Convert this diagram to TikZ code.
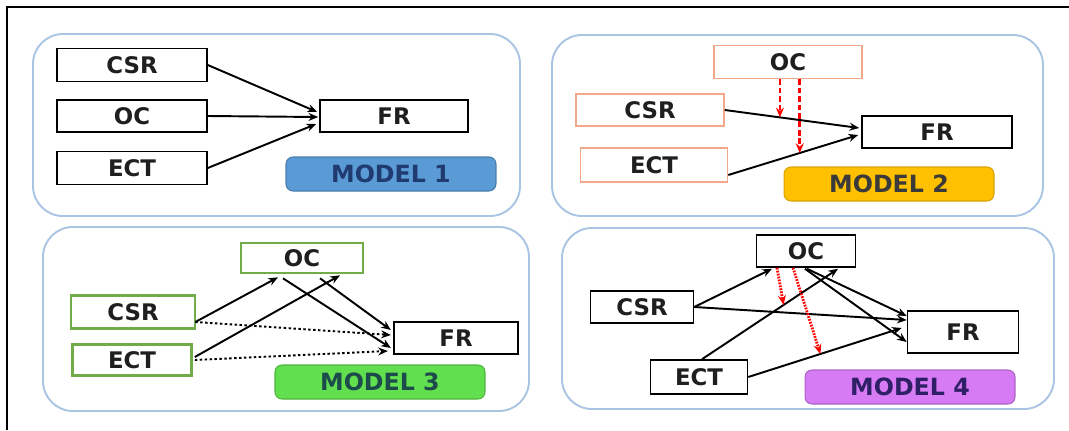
\documentclass[tikz,border=0pt]{standalone}
\usepackage{fontspec}
\setmainfont{DejaVu Sans}
\usetikzlibrary{calc,arrows.meta}

% Màu sắc dùng trong hình
\definecolor{khungmo}{HTML}{A9C5E3}
\definecolor{camnhat}{HTML}{F2A98A}
\definecolor{xanhla}{HTML}{70AD47}
\definecolor{nen1}{HTML}{5B9BD5}
\definecolor{chu1}{HTML}{1F3B70}
\definecolor{nen2}{HTML}{FFC000}
\definecolor{chu2}{HTML}{3A3A3A}
\definecolor{nen3}{HTML}{62DF4E}
\definecolor{chu3}{HTML}{1D4A4A}
\definecolor{nen4}{HTML}{D77BF4}
\definecolor{chu4}{HTML}{2F1F66}

\tikzset{
    panel/.style={draw=khungmo, line width=1.1pt, rounded corners=0.6cm},
    hop/.style={draw, line width=0.9pt, fill=white, inner sep=0pt,
        font=\fontsize{13}{15}\selectfont\bfseries, text=black!88},
    nhan/.style={rounded corners=4pt, inner sep=0pt, line width=0.6pt,
        minimum width=4.2cm, minimum height=0.68cm,
        font=\fontsize{13.5}{15}\selectfont\bfseries},
    muiten/.style={->, line width=1.1pt},
    muitencham/.style={->, line width=1.1pt, dash pattern=on 1.4pt off 1.4pt},
    tacdong/.style={->, red, line width=1.6pt, dash pattern=on 3.2pt off 1.6pt},
    tacdongcham/.style={->, red, line width=1.6pt, dash pattern=on 1pt off 0.7pt}
}

\begin{document}
\begin{tikzpicture}[>={Stealth[length=5.5pt,width=4.5pt]}, x=0.02cm, y=-0.02cm]

    \useasboundingbox (0,0) rectangle (1069,430);
    % Khung viền ngoài (chỉ cạnh trên và cạnh trái)
    \draw[line width=1.2pt] (7,430) -- (7,7) -- (1069,7);

    % =================================================================
    % MODEL 1
    % =================================================================
    \begin{scope}
        \draw[panel] (33,34) rectangle (520,216);

        \node[hop, minimum width=3cm, minimum height=0.66cm] (csr1) at (132,65) {CSR};
        \node[hop, minimum width=3cm, minimum height=0.64cm] (oc1) at (132,116) {OC};
        \node[hop, minimum width=3cm, minimum height=0.66cm] (ect1) at (132,168) {ECT};
        \node[hop, minimum width=2.96cm, minimum height=0.64cm] (fr1) at (394,116) {FR};
        \node[nhan, fill=nen1, draw=nen1!80!black, text=chu1] (model1) at (391,174) {MODEL 1};

        % Các tác động trực tiếp lên FR
        \draw[muiten] (csr1.east) -- ($(fr1.west)+(-2,-4)$);
        \draw[muiten] (oc1.east) -- ($(fr1.west)+(-1,1)$);
        \draw[muiten] (ect1.east) -- ($(fr1.west)+(-3,8)$);
    \end{scope}

    % =================================================================
    % MODEL 2
    % =================================================================
    \begin{scope}
        \draw[panel] (552,35) rectangle (1043,216);

        \node[hop, draw=camnhat, minimum width=2.96cm, minimum height=0.66cm] (oc2) at (788,62) {OC};
        \node[hop, draw=camnhat, minimum width=2.96cm, minimum height=0.64cm] (csr2) at (650,110) {CSR};
        \node[hop, draw=camnhat, minimum width=2.94cm, minimum height=0.68cm] (ect2) at (654,165) {ECT};
        \node[hop, minimum width=3cm, minimum height=0.64cm] (fr2) at (937,132) {FR};
        \node[nhan, fill=nen2, draw=nen2!85!black, text=chu2] (model2) at (889,184) {MODEL 2};

        \coordinate (d21) at ($(fr2.west)+(-2,-4)$);
        \coordinate (g22) at ($(ect2.east)+(0,10)$);
        \coordinate (d22) at ($(fr2.west)+(-3,3)$);
        \draw[muiten] (csr2.east) -- (d21);
        \draw[muiten] (g22) -- (d22);

        % OC điều tiết hai đường tác động
        \coordinate (m21) at ($(csr2.east)!0.41!(d21)$);
        \coordinate (m22) at ($(g22)!0.55!(d22)$);
        \draw[tacdong] (m21 |- oc2.south) -- (m21);
        \draw[tacdong] (m22 |- oc2.south) -- (m22);
    \end{scope}

    % =================================================================
    % MODEL 3
    % =================================================================
    \begin{scope}
        \draw[panel] (43,227) rectangle (529,411);

        \node[hop, draw=xanhla, line width=1.5pt, minimum width=2.44cm, minimum height=0.6cm] (oc3) at (302,258) {OC};
        \node[hop, draw=xanhla, line width=1.5pt, minimum width=2.48cm, minimum height=0.66cm] (csr3) at (133,312) {CSR};
        \node[hop, draw=xanhla, line width=1.5pt, minimum width=2.38cm, minimum height=0.62cm] (ect3) at (132,360) {ECT};
        \node[hop, line width=1.3pt, minimum width=2.48cm, minimum height=0.64cm] (fr3) at (456,338) {FR};
        \node[nhan, fill=nen3, draw=nen3!80!black, text=chu3] (model3) at (380,382) {MODEL 3};

        \coordinate (g31) at ($(csr3.east)+(-1,10)$);
        \coordinate (g32) at ($(ect3.east)+(2,-3)$);
        % Đường trung gian qua OC
        \draw[muiten] (g31) -- ($(oc3.south)+(-24,3)$);
        \draw[muiten] (g32) -- ($(oc3.south)+(38,1)$);
        \draw[muiten] ($(oc3.south)+(-19,4)$) -- ($(fr3.west)+(-2,10)$);
        \draw[muiten] ($(oc3.south)+(18,4)$) -- ($(fr3.west)+(-2,-8)$);
        % Tác động trực tiếp (nét chấm)
        \draw[muitencham] (g31) -- ($(fr3.west)+(-2,-3)$);
        \draw[muitencham] ($(ect3.east)+(2,0)$) -- ($(fr3.west)+(-5,13)$);
    \end{scope}

    % =================================================================
    % MODEL 4
    % =================================================================
    \begin{scope}
        \draw[panel] (562,228) rectangle (1054,409);

        \node[hop, minimum width=1.98cm, minimum height=0.64cm] (oc4) at (806,251) {OC};
        \node[hop, minimum width=2.06cm, minimum height=0.64cm] (csr4) at (642,307) {CSR};
        \node[hop, minimum width=1.94cm, minimum height=0.68cm] (ect4) at (699,377) {ECT};
        \node[hop, minimum width=2.22cm, minimum height=0.84cm] (fr4) at (963,332) {FR};
        \node[nhan, fill=nen4, draw=nen4!80!black, text=chu4] (model4) at (910,387) {MODEL 4};

        \coordinate (g41) at ($(ect4.north)+(3,0)$);
        \coordinate (d41) at ($(oc4.south)+(32,1)$);
        \coordinate (d42) at ($(fr4.west)+(-5,-4)$);
        \draw[muiten] (csr4.east) -- ($(oc4.south)+(-34,1)$);
        \draw[muiten] (csr4.east) -- ($(fr4.west)+(0,-12)$);
        \draw[muiten] (g41) -- (d41);
        \draw[muiten] (ect4.east) -- (d42);
        \draw[muiten] ($(oc4.south)+(1,1)$) -- ($(fr4.west)+(0,-16)$);
        \draw[muiten] ($(oc4.south)+(-1,1)$) -- ($(fr4.west)+(0,10)$);

        % OC điều tiết (nét chấm đỏ)
        \coordinate (m41) at ($(g41)!0.6!(d41)$);
        \coordinate (m42) at ($(ect4.east)!0.47!(d42)$);
        \draw[tacdongcham] ($(oc4.south)+(-29,0)$) -- (m41);
        \draw[tacdongcham] ($(oc4.south)+(-13,0)$) -- (m42);
    \end{scope}

\end{tikzpicture}
\end{document}
